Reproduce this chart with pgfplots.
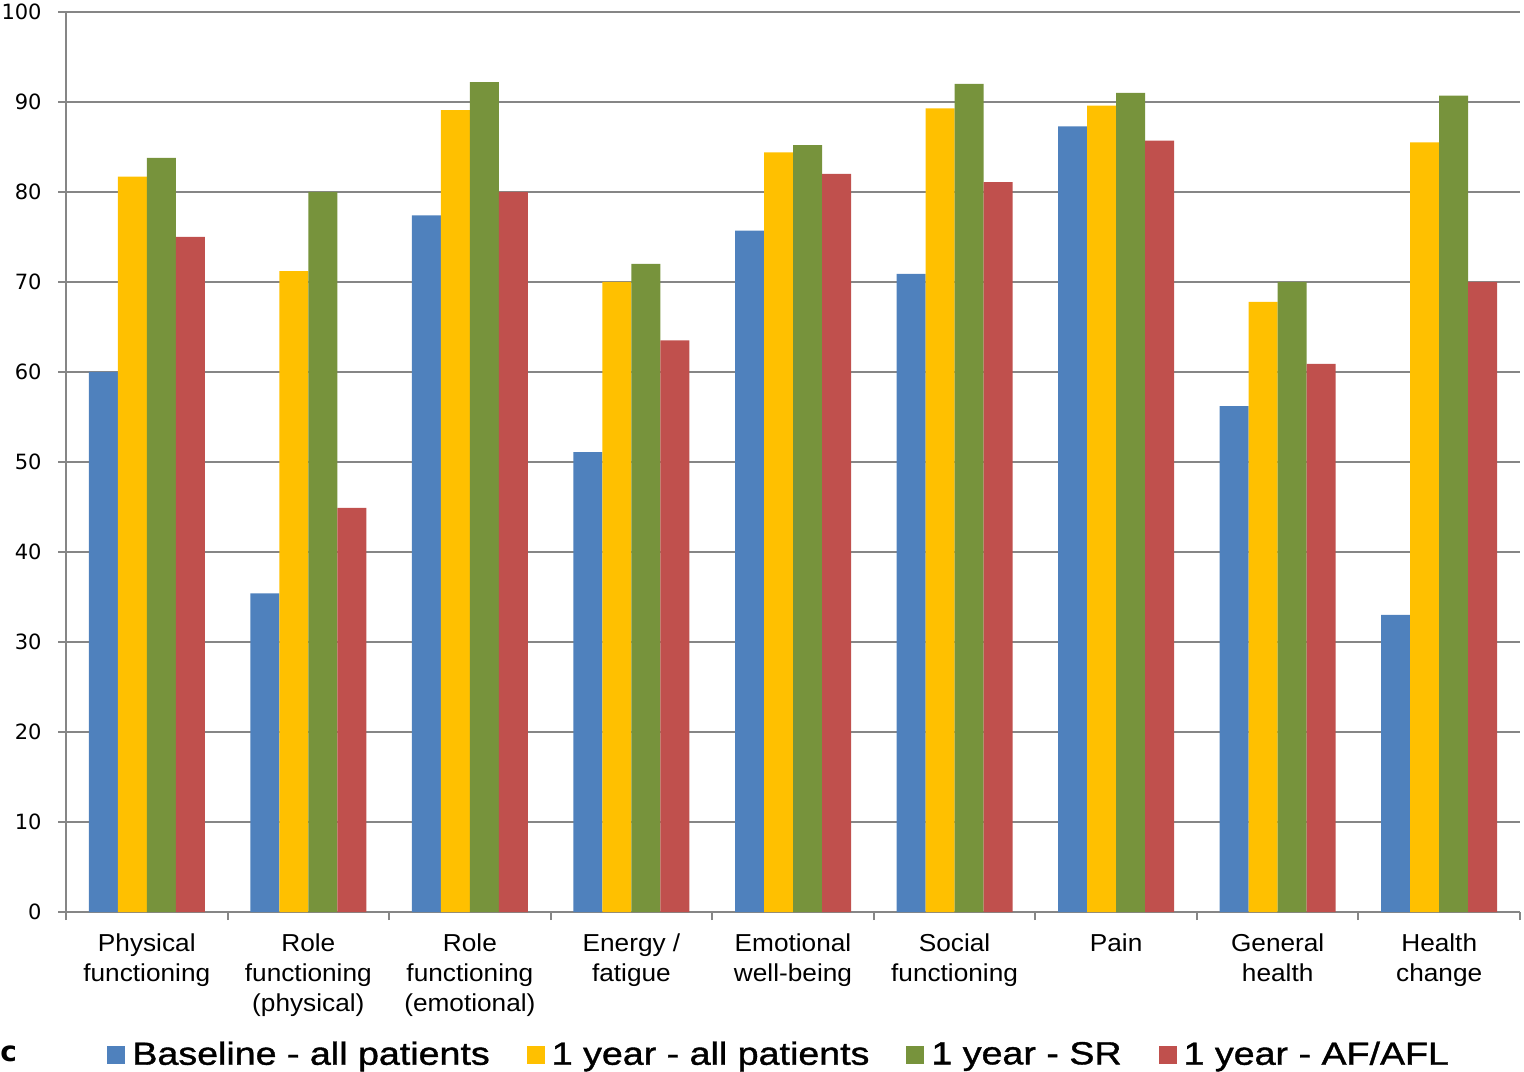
\documentclass[border=0pt]{standalone}
\usepackage{fontspec}
\setmainfont{Liberation Sans}
\newfontfamily\tickfont[FakeStretch=1.07]{Liberation Sans}
\newfontfamily\legfont[FakeStretch=1.175,FakeBold=1.2]{Liberation Sans}
\newfontfamily\yfont{DejaVu Sans}
\usepackage{pgfplots}
\pgfplotsset{compat=1.18}
\definecolor{cblue}{HTML}{4F81BD}
\definecolor{cyellow}{HTML}{FFC000}
\definecolor{cgreen}{HTML}{77933C}
\definecolor{cred}{HTML}{C0504D}
\definecolor{axgray}{HTML}{868686}
\begin{document}
\begin{tikzpicture}
\path[use as bounding box] (0,0) rectangle (762pt,535.5pt);
\begin{axis}[
 at={(33pt,79.5pt)}, anchor=south west,
 scale only axis, width=727pt, height=450pt,
 ybar=0pt, bar width=14.5pt,
 xmin=-0.5, xmax=8.5, ymin=0, ymax=100,
 axis x line*=bottom, axis y line*=left,
 axis line style={color=axgray, line width=1pt},
 xtick={-0.5,0.5,...,8.5},
 xticklabels={},
 extra x ticks={0,1,2,3,4,5,6,7,8},
 extra x tick labels={{Physical\\functioning},{Role\\functioning\\(physical)},{Role\\functioning\\(emotional)},{Energy /\\fatigue},{Emotional\\well-being},{Social\\functioning},{Pain},{General\\health},{Health\\change}},
 extra x tick style={grid=none, tick style={draw=none},
   tick label style={align=center, font=\tickfont\fontsize{12.25}{15}\selectfont, inner sep=0pt, anchor=north, yshift=-6.5pt}},
 ytick={0,10,...,100},
 ymajorgrids, grid style={color=axgray, line width=1pt},
 tick style={draw=axgray, line width=1pt},
 tick align=outside, major tick length=4pt,
 yticklabel style={font=\yfont\fontsize{10.5}{12}\selectfont, inner sep=0pt, anchor=east, xshift=-8pt},
 /pgf/number format/assume math mode=true,
 legend columns=4,
 legend style={at={(0.0282,-0.1585)}, anchor=west, draw=none, fill=none, inner sep=0pt,
   font=\legfont\fontsize{16}{19}\selectfont,
   /tikz/every odd column/.append style={column sep=1.5pt},
   /tikz/every even column/.append style={column sep=16.5pt}},
]
\addplot[fill=cblue, draw=none, legend image code/.code={\fill[cblue] (0pt,-4.5pt) rectangle (9pt,4.5pt);}] coordinates {(0,60.0) (1,35.4) (2,77.4) (3,51.1) (4,75.7) (5,70.9) (6,87.3) (7,56.2) (8,33.0)};
\addplot[fill=cyellow, draw=none, legend image code/.code={\fill[cyellow] (0pt,-4.5pt) rectangle (9pt,4.5pt);}] coordinates {(0,81.7) (1,71.2) (2,89.1) (3,70.0) (4,84.4) (5,89.3) (6,89.6) (7,67.8) (8,85.5)};
\addplot[fill=cgreen, draw=none, legend image code/.code={\fill[cgreen] (0pt,-4.5pt) rectangle (9pt,4.5pt);}] coordinates {(0,83.8) (1,80.0) (2,92.2) (3,72.0) (4,85.2) (5,92.0) (6,91.0) (7,70.0) (8,90.7)};
\addplot[fill=cred, draw=none, legend image code/.code={\fill[cred] (0pt,-4.5pt) rectangle (9pt,4.5pt);}] coordinates {(0,75.0) (1,44.9) (2,80.0) (3,63.5) (4,82.0) (5,81.1) (6,85.7) (7,60.9) (8,70.0)};
\legend{Baseline - all patients, 1 year - all patients, 1 year - SR, 1 year - AF/AFL}
\end{axis}
\node[anchor=west, inner sep=0pt, font=\yfont\bfseries\fontsize{14}{17}\selectfont] at (0pt,8.5pt) {c};
\end{tikzpicture}
\end{document}
